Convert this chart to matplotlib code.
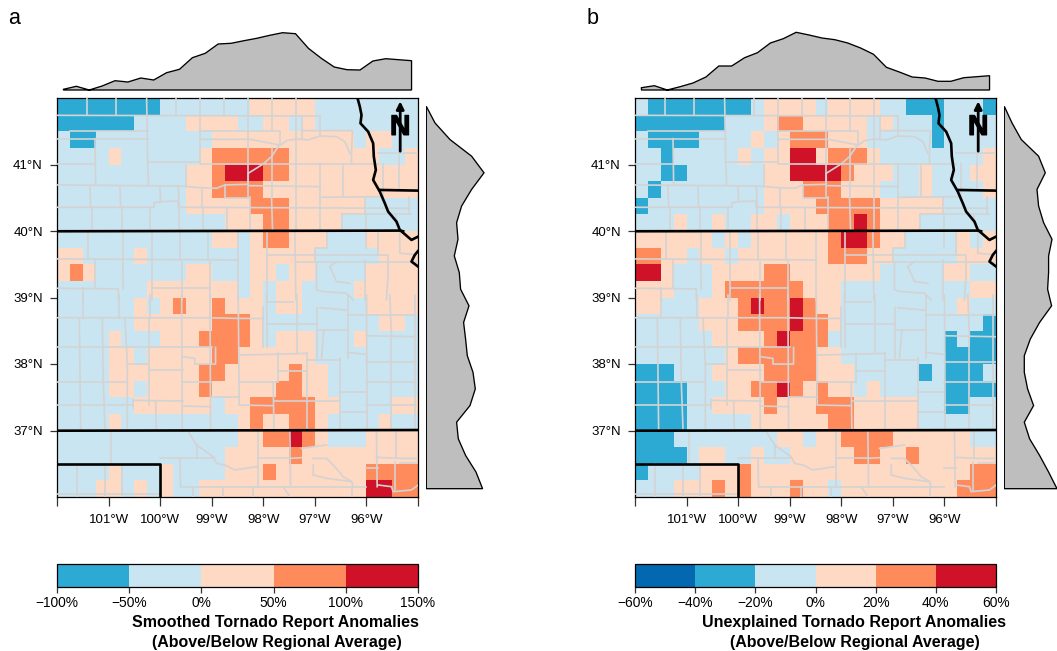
import matplotlib
matplotlib.use("Agg")
import numpy as np
import matplotlib.pyplot as plt
from matplotlib.colors import ListedColormap, BoundaryNorm
from matplotlib.cm import ScalarMappable
import matplotlib.patheffects as pe

plt.rcParams['font.family'] = ['Liberation Sans', 'DejaVu Sans']

W, H = 1057, 651

# ---------- data: anomaly class per 0.25 degree cell, north to south, west to east ----------
LEVELS_A = [
 "11111111 2222222 33333 22222222",
 "111111 2222 3333 22 33 2 3 22222222",
 "2 11 222222222 33333333333 2 33 22",
 "2222 3 222222 3 444444 3333333 22 3",
 "2222222222 33 4 555 44 3333333333",
 "2222222222 33 4444 333333333333",
 "2222222222 33333 444 333333 2222",
 "2222222222222 333 44 3333 222222",
 "222222222222 33 2 3 44 333 222 3333",
 "33 2222 3 22222222 33333 22222 333",
 "3 4 3 2222222 33 222 33 2 33 2222 3333",
 "2222222 3333333 2 3 2 33 2222 33333",
 "222222 3 2 3 4 33 4 3 33 2 33 22222 3333",
 "222222 333333 444 3 22222222 2 33 2",
 "2222 3 222 333 4 44 4 3 2 333 222 3 2222",
 "2222 33 2 33333 44 333333 22222222",
 "2222 3333333 4 4 3 3333 4 33 2222222",
 "2222 33 2 3333 4 33333 44 33 2222222",
 "222222 333333 2 33 44444 33 2222 33",
 "2222 3 222222222 3 4 33 44 3 2222 3 22",
 "22222222222222 33 44 5 4 3 222 3333",
 "2222222222222 33333 4 333333333",
 "2222 3 222 3 2222 333 4 3333333 4444",
 "222 33 2 3 2 3 22 3333333333333 55 44",
]
LEVELS_B = [
 "2 11111111 2 3333 2 3333 22 111 222 1",
 "1111111 222 3 44 33333 2 3 222 1 2222",
 "2 1111 2222 3 2 3 444 333 22222 1 2222",
 "22 1 22222 3 2 33 55 3 444 3 22222222 3",
 "22 11 222222 33 5555 4 333 22 3 222 33",
 "2 1 22222222 333 444 333 222 3 2222 3",
 "1 222222222 3333 44444 33333 2222",
 "222 3 22 3 22 33 2 333 44 5 4 333 222222",
 "333333 2 3 2 333333 4 55 4 33 2222 3 2 3",
 "44 33 2 33 2 3333333 444 33 22222 333",
 "55 3 222 3333 44 3333 333 22222 33 22",
 "333 22 2 3 444444 333 22222222 22 33",
 "33 222 333 4 5 44 5 4 33 222222222 3 22",
 "22222 333 4444 5 4 4 3 2222222222 2 1",
 "222222 3333 4 5 44 4 222222222 1 2 11",
 "2222222 3 444444 33 22222222 1111",
 "111 222 3333 4444 333 22222 1 2 111 2",
 "1111 222 33 44 5 4 3 4 33 2 3 22222 1111",
 "1111 22 3333 4 333 444 33333 22 11 22",
 "1111 22222 333333 44 33333 222222",
 "111 22222222 33 2 33 4444 333333 22",
 "1111 2 33 22 3 22 33333 44 33 4 333333",
 "1 2222 333 4 33333333333333333 44",
 "222 333 4 3 4 333 4 33 2 333333333 444",
]
BOUNDS_A = [-100, -50, 0, 50, 100, 150]
BOUNDS_B = [-60, -40, -20, 0, 20, 40, 60]
COLORS_A = ['#2DAAD4', '#C9E5F1', '#FED9C3', '#FF8B5C', '#CF1228']
COLORS_B = ['#0368AF', '#2DAAD4', '#C9E5F1', '#FED9C3', '#FF8B5C', '#CF1228']

# marginal profiles (arbitrary height units)
TOP_A = [0.7,3.7,0,4,9.3,8,12,10,17.3,20.7,32.3,36.7,46,46.7,49.3,51.7,54.7,57.3,56.3,41.7,31.7,23,20.3,20,29,31.3,30.3,29.3]
TOP_B = [2.3,4.3,0,3.3,7,13,24,24,32.3,37.3,47,51.3,57.7,55,52,50.3,47,42,35.7,22.7,18,13,12,8.7,8.7,12.3,13.3,14.3]
RIGHT_A = [0,8.7,23.7,45.3,57.7,45.3,35.3,30.3,31.7,28,33,34.3,42.7,37.3,39.3,41,46.7,49,43.7,30.3,32,39.3,49.7,56.3]
RIGHT_B = [0,7.7,17,34.3,41,32.7,34.3,39.3,47.7,44.3,44.3,43.3,47.3,35.3,26,20,20,23.3,29.3,20,25.3,35.3,44.3,52.7]

LON_TICKS = [-102,-101,-100,-99,-98,-97,-96,-95]
LON_LABELS = ['', '101°W','100°W','99°W','98°W','97°W','96°W','']
LAT_TICKS = [37,38,39,40,41]
LAT_LABELS = ['37°N','38°N','39°N','40°N','41°N']

# ---------- map outlines (x, y in trace units) ----------
NORTH = [
 [(110,24),(110,75)],[(198,24),(198,75)],[(290,24),(293,210),(296,285)],[(378,24),(378,76)],[(450,24),(450,215)],
 [(522,24),(522,76)],[(595,24),(595,322)],[(665,24),(665,122)],[(737,24),(737,148)],
 [(21,76),(810,78)],[(60,122),(293,122)],[(21,146),(293,146)],[(135,146),(137,285)],[(21,222),(135,222)],
 [(450,122),(690,122),(690,165)],[(450,148),(600,148),(690,165)],[(755,78),(755,148)],[(810,78),(810,135)],
 [(755,122),(908,122),(905,185),(905,220)],
 [(293,215),(450,215),(450,222),(985,222)],[(408,225),(408,288)],
 [(21,285),(385,288),(450,293),(500,295),(525,285),(595,283),(595,250),(640,222),(665,200),(685,170),(710,152),(740,147),(775,150),(810,138),(860,140),(885,155),(900,190)],
 [(595,287),(810,290)],[(665,175),(665,322)],[(737,150),(737,420)],[(810,222),(810,420)],[(880,222),(880,322)],
 [(810,322),(1000,320)],[(21,352),(312,352),(312,338),(335,335),(385,333),(385,352)],[(385,352),(1080,355)],
 [(120,285),(122,352)],[(210,288),(212,352)],[(330,288),(332,335)],[(385,288),(388,352)],[(457,293),(457,352)],
 [(525,285),(525,325),(600,325)],[(600,322),(600,355)],
 [(125,352),(125,422)],[(215,352),(215,422)],[(300,352),(300,422)],[(388,352),(388,422)],[(460,352),(460,422)],
 [(530,352),(530,422)],[(600,355),(600,422)],[(665,322),(668,422)],[(875,372),(875,422)],[(945,322),(945,372)],
 [(875,372),(1085,372)],[(948,372),(948,422)],[(1078,322),(1078,372)],[(1000,222),(1000,320)],[(1048,190),(1048,300)],
 [(985,190),(1105,190)],[(1040,372),(1040,400)],
 [(113,424),(113,505)],[(218,424),(218,505)],[(305,424),(305,510)],[(390,424),(390,510)],[(475,424),(475,510)],
 [(565,424),(565,630)],[(650,424),(650,630)],[(735,424),(738,630)],[(830,424),(830,475),(795,475),(795,510)],
 [(950,424),(950,475)],[(985,424),(985,495),(1015,495),(1015,550)],[(1050,424),(1050,490),(1105,495)],
 [(21,507),(565,510)],[(650,495),(985,495)],[(21,595),(205,597),(205,630)],[(100,595),(100,630)],
 [(135,507),(135,595)],[(218,507),(220,597)],[(305,510),(305,630)],[(395,515),(395,630)],[(480,510),(480,630)],
 [(305,595),(480,595)],[(735,515),(1105,515)],[(800,515),(800,600),(820,605),(890,610),(910,630)],
 [(840,530),(860,575),(900,580)],[(860,515),(840,530)],[(945,510),(945,630)],[(1015,550),(1010,630)],
]
SOUTH = [
 [(100,0),(100,68)],[(207,0),(207,68)],[(300,0),(300,68)],[(395,0),(397,400)],[(480,0),(482,400)],[(565,0),(568,330)],
 [(640,35),(640,157)],[(21,68),(480,68),(565,70),(640,70)],[(88,68),(92,407)],[(157,68),(160,262),(165,400)],
 [(225,70),(232,205),(232,400)],[(298,70),(298,330)],[(21,155),(400,155)],[(400,157),(485,157)],
 [(400,185),(435,190),(435,207),(497,207),(497,157)],[(232,207),(295,207)],[(298,225),(400,225)],[(21,262),(232,262)],
 [(400,262),(482,262)],[(568,262),(680,262)],[(21,330),(250,330)],[(250,316),(400,318)],[(250,316),(250,340)],
 [(317,318),(319,400)],[(400,333),(482,335)],[(482,305),(565,305)],[(570,330),(670,332)],[(570,180),(770,175)],
 [(685,175),(685,262)],[(770,175),(770,405)],[(685,228),(770,228)],[(670,262),(672,400)],[(672,318),(870,318)],
 [(870,290),(870,400)],[(740,0),(740,175)],[(650,0),(652,157)],[(650,20),(730,20)],[(650,88),(800,88)],
 [(800,40),(800,190)],[(810,38),(890,45)],[(893,0),(893,190)],[(805,105),(890,105)],[(822,105),(815,190)],
 [(770,195),(870,195)],[(870,190),(870,290)],[(870,290),(950,290)],[(870,350),(950,350)],[(950,0),(952,407)],
 [(893,60),(1105,60)],[(950,122),(1105,125)],[(893,172),(950,178)],[(950,200),(1105,200)],[(950,262),(1105,262)],
 [(950,330),(1105,330)],[(1025,125),(1025,400)],[(1020,0),(1025,125)],[(1095,0),(1095,400)],
 [(183,410),(183,508)],[(415,410),(440,450),(490,485),(500,505),(525,510),(555,525),(620,515)],[(440,450),(440,490)],
 [(330,490),(490,490)],[(390,490),(392,575)],[(392,575),(950,575)],[(80,508),(80,606)],[(165,508),(165,606)],
 [(215,508),(215,606)],[(625,410),(625,575)],[(625,490),(720,490)],[(720,410),(722,575)],[(720,490),(755,488)],
 [(755,460),(830,450)],[(790,490),(830,490),(850,510),(880,545),(905,560),(910,575)],[(790,510),(790,540),(830,550),(905,560)],
 [(950,520),(985,520)],[(980,410),(982,575)],[(980,487),(1050,490),(1105,490)],[(1040,410),(1040,490)],
 [(1037,500),(1037,585)],[(1050,505),(1100,505)],[(985,570),(1025,575),(1030,590),(1085,585),(1105,570)],
 [(430,575),(430,606)],[(520,575),(520,606)],[(610,575),(610,606)],[(700,575),(720,606)],[(905,575),(905,606)],[(21,598),(330,598)],
]
BORDER_N = [
 [(21,424),(1052,422),(1060,424)],
 [(923,24),(930,50),(935,75),(932,100),(955,125),(970,160),(972,200),(978,240),(970,270),(990,305),(1005,340),(1015,365),(1040,395),(1050,420),(1085,450),(1105,440)],
 [(990,300),(1105,302)],
 [(1105,483),(1095,495),(1085,515),(1105,530)],
]
BORDER_S = [
 [(21,407),(1105,405)],
 [(21,508),(330,508),(330,606)],
]

def north(p):
    return -102 + (p[0]-21)/154.8, 42 - (p[1]-24)/199.6
def south(p):
    return -102 + (p[0]-21)/154.8, 36 + (606-p[1])/199.6

def rect(x0, y0, x1, y1):
    return [x0/W, 1-y1/H, (x1-x0)/W, (y1-y0)/H]

def grid(rows, bounds):
    mids = [(a+b)/2 for a, b in zip(bounds[:-1], bounds[1:])]
    shift = len(mids) - 5
    out = []
    for r in rows:
        s = r.replace(" ", "")
        assert len(s) == 28, (r, len(s))
        out.append([mids[int(c)-1+shift] for c in s])
    return np.array(out)

fig = plt.figure(figsize=(W/100, H/100), dpi=100)
fig.patch.set_facecolor('white')

def panel(x0, rows, bounds, colors, top, right, letter, title_cx, title, right_px, tick_fmt):
    x1 = x0 + 361
    cmap = ListedColormap(colors)
    norm = BoundaryNorm(bounds, cmap.N)
    ax = fig.add_axes(rect(x0, 98, x1, 497))
    lon_e = np.linspace(-102, -95, 29)
    lat_e = np.linspace(42, 36, 25)
    ax.pcolormesh(lon_e, lat_e, grid(rows, bounds), cmap=cmap, norm=norm, rasterized=True)
    for group, f in ((NORTH, north), (SOUTH, south)):
        for tr in group:
            a = np.array([f(p) for p in tr])
            ax.plot(a[:,0], a[:,1], color='#D3D3D3', lw=1.2, solid_joinstyle='round', zorder=3)
    for group, f in ((BORDER_N, north), (BORDER_S, south)):
        for tr in group:
            a = np.array([f(p) for p in tr])
            ax.plot(a[:,0], a[:,1], color='black', lw=1.9, zorder=4)
    ax.set_xlim(-102, -95); ax.set_ylim(36, 42)
    ax.set_xticks(LON_TICKS, LON_LABELS); ax.set_yticks(LAT_TICKS, LAT_LABELS)
    ax.tick_params(axis='x', length=6.5, width=0.9, labelsize=9.5, pad=6, color='#333333')
    ax.tick_params(axis='y', length=5.2, width=0.9, labelsize=9.5, pad=5, color='#333333')
    for s in ax.spines.values():
        s.set_linewidth(0.9)
    # north arrow
    ax.annotate('', xy=(-95.345, 41.95), xytext=(-95.345, 41.2),
                arrowprops=dict(arrowstyle='-|>', lw=2.0, color='black', mutation_scale=11, shrinkA=0, shrinkB=0), zorder=6)
    ax.text(-95.345, 41.55, 'N', ha='center', va='center', fontsize=20.5, fontweight='bold', color='black', zorder=6,
            path_effects=[pe.withStroke(linewidth=0.8, foreground='black')])

    axt = fig.add_axes(rect(x0, 20, x1, 90))
    lon_c = (lon_e[:-1]+lon_e[1:])/2
    axt.fill(np.r_[lon_c, lon_c[-1], lon_c[0]], np.r_[top, 0, 0], facecolor='#BEBEBE', edgecolor='black', lw=0.95, clip_on=False)
    axt.set_xlim(-102, -95); axt.set_ylim(0, 70); axt.axis('off')

    axr = fig.add_axes(rect(right_px, 98, right_px+70, 497))
    lat_c = (lat_e[:-1]+lat_e[1:])/2
    axr.fill(np.r_[right, 0, 0], np.r_[lat_c, lat_c[-1], lat_c[0]], facecolor='#BEBEBE', edgecolor='black', lw=0.95, clip_on=True)
    axr.set_ylim(36, 42); axr.set_xlim(0, 70); axr.axis('off')

    cax = fig.add_axes(rect(x0, 564, x1, 587))
    cb = fig.colorbar(ScalarMappable(norm=norm, cmap=cmap), cax=cax, orientation='horizontal', spacing='proportional', ticks=bounds)
    cb.set_ticklabels([tick_fmt(b) for b in bounds])
    cb.ax.tick_params(length=4, width=0.9, labelsize=9.9, pad=2.5, color='#333333')
    cb.outline.set_linewidth(0.9)
    cb.ax.minorticks_off()

    fig.text((x0-42.5)/W, 1-18.5/H, letter, fontsize=15.5, ha='center', va='center')
    fig.text(title_cx/W, 1-622/H, title, fontsize=11.55, fontweight='bold', ha='center', va='center')
    fig.text((title_cx+1)/W, 1-642/H, '(Above/Below Regional Average)', fontsize=11.55, fontweight='bold', ha='center', va='center')

fmt = lambda b: f"{'−' if b<0 else ''}{abs(b)}%"
panel(57, LEVELS_A, BOUNDS_A, COLORS_A, TOP_A, RIGHT_A, 'a', 275.5, 'Smoothed Tornado Report Anomalies', 426.3, fmt)
panel(635, LEVELS_B, BOUNDS_B, COLORS_B, TOP_B, RIGHT_B, 'b', 854, 'Unexplained Tornado Report Anomalies', 1004.3, fmt)
fig.savefig('out.png', dpi=100)
